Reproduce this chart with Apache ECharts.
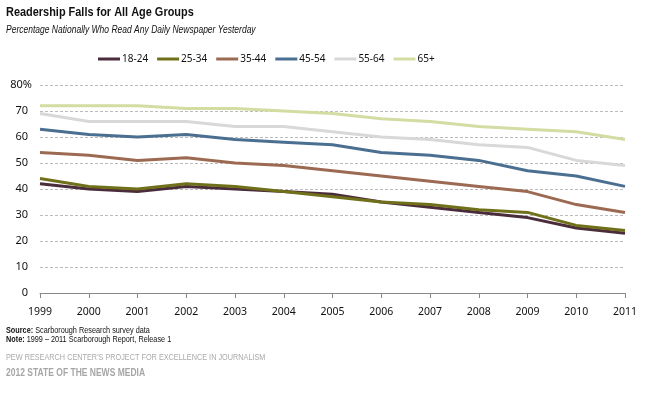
<!DOCTYPE html>
<html>
<head>
<meta charset="utf-8">
<script src="https://cdn.jsdelivr.net/npm/echarts@6/dist/echarts.min.js"></script>
<style>
  html, body { margin: 0; padding: 0; background: #fff; }
  #chart { width: 653px; height: 397px; }
</style>
</head>
<body>
<div id="chart"></div>
<script>
const years = ["1999", "2000", "2001", "2002", "2003", "2004", "2005", "2006", "2007", "2008", "2009", "2010", "2011"]
const age18to24 = [42, 40, 39, 41, 40, 39, 38, 35, 33, 31, 29, 25, 23]
const age25to34 = [44, 41, 40, 42, 41, 39, 37, 35, 34, 32, 31, 26, 24]
const age35to44 = [54, 53, 51, 52, 50, 49, 47, 45, 43, 41, 39, 34, 31]
const age45to54 = [63, 61, 60, 61, 59, 58, 57, 54, 53, 51, 47, 45, 41]
const age55to64 = [69, 66, 66, 66, 64, 64, 62, 60, 59, 57, 56, 51, 49]
const age65plus = [72, 72, 72, 71, 71, 70, 69, 67, 66, 64, 63, 62, 59]
const yTicks = [0, 10, 20, 30, 40, 50, 60, 70, 80]

// no Arial Narrow here, so squeeze Liberation Sans a bit
const sans = "'Liberation Sans', Arial, sans-serif"
const labelFont = "'Noto Sans', sans-serif"
const chart = echarts.init(document.getElementById("chart"))

const groups = [
	{ name: "18-24", data: age18to24, color: "#4b2c3d" },
	{ name: "25-34", data: age25to34, color: "#6f7019" },
	{ name: "35-44", data: age35to44, color: "#9c6a52" },
	{ name: "45-54", data: age45to54, color: "#4b6f90" },
	{ name: "55-64", data: age55to64, color: "#d8d8d8" },
	{ name: "65+", data: age65plus, color: "#d3dca2" }
]

const narrowText = (x, y, text, size, fill, extra) => ({
	type: "text",
	x: x,
	y: y,
	scaleX: 0.81,
	originX: 0,
	style: Object.assign({
		text: text,
		fontFamily: sans,
		fontSize: size,
		fill: fill,
		verticalAlign: "middle",
		textVerticalAlign: "middle"
	}, extra || {})
})

const boldRich = size => ({ b: { fontWeight: "bold", fontFamily: sans, fontSize: size, fill: "#111" } })

const option = {
	backgroundColor: "#fff",
	animation: false,
	legend: {
		top: 54,
		left: 98,
		padding: 0,
		itemWidth: 22,
		itemHeight: 3,
		itemGap: 9,
		icon: "rect",
		textStyle: { fontFamily: labelFont, fontSize: 10, color: "#111", padding: [0, 0, 0, -3] },
		data: groups.map(g => g.name)
	},
	grid: { left: 40, right: 28, top: 85, bottom: 104 },
	xAxis: {
		type: "category",
		data: years,
		boundaryGap: false,
		axisLine: { lineStyle: { color: "#888", width: 1 } },
		axisTick: { show: true, length: 5, lineStyle: { color: "#888" } },
		axisLabel: { fontFamily: labelFont, fontSize: 10.5, color: "#111", margin: 14 }
	},
	yAxis: {
		type: "value",
		min: 0,
		max: yTicks[yTicks.length - 1],
		interval: 10,
		axisLine: { show: false },
		axisTick: { show: false },
		splitLine: { lineStyle: { color: "#bbb", type: [3, 2] } },
		axisLabel: {
			margin: 12,
			formatter: v => (v === 80 ? "{p|80%}" : "{n|" + v + "}"),
			rich: {
				p: { fontFamily: labelFont, fontSize: 11, color: "#111", padding: [0, -4, 0, 0] },
				n: { fontFamily: labelFont, fontSize: 11, color: "#111" }
			}
		}
	},
	series: groups.map(g => ({
		name: g.name,
		type: "line",
		data: g.data,
		symbol: "none",
		color: g.color,
		lineStyle: { width: 3, color: g.color }
	})),
	graphic: [
		narrowText(6, 12, "Readership Falls for All Age Groups", 13.5, "#111", { fontWeight: "bold" }),
		narrowText(6, 30.5, "Percentage Nationally Who Read Any Daily Newspaper Yesterday", 10.5, "#111", { fontStyle: "italic" }),
		narrowText(6, 330.5, "{b|Source:} Scarborough Research survey data", 9, "#111", { rich: boldRich(9) }),
		narrowText(6, 340, "{b|Note:} 1999 \u2013 2011 Scarborough Report, Release 1", 9, "#111", { rich: boldRich(9) }),
		narrowText(6, 357.5, "PEW RESEARCH CENTER'S PROJECT FOR EXCELLENCE IN JOURNALISM", 9, "#aaa"),
		narrowText(6, 373, "2012 STATE OF THE NEWS MEDIA", 10.5, "#a6a6a6", { fontWeight: "bold" })
	]
}
chart.setOption(option)
</script>
</body>
</html>
